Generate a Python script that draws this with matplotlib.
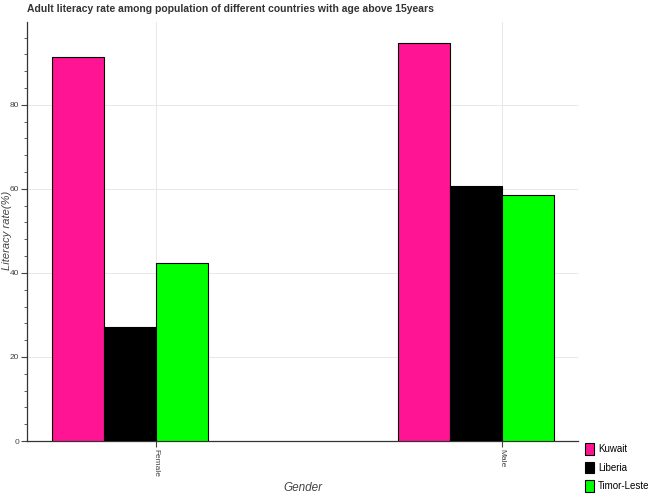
import numpy as np
import matplotlib.pyplot as plt
from matplotlib.ticker import MultipleLocator

plt.rcParams['font.family'] = ['Liberation Sans', 'DejaVu Sans']

# Data
genders = ['Female', 'Male']
countries = ['Kuwait', 'Liberia', 'Timor-Leste']
kuwait = [91.4, 94.8]
liberia = [27.1, 60.7]
timor_leste = [42.4, 58.6]
colors = ['#FF1493', '#000000', '#00FF00']

fig = plt.figure(figsize=(6.5, 5), dpi=100)
ax = fig.add_axes([0.0415, 0.118, 0.848, 0.838])

x = np.arange(len(genders))
width = 0.15
offsets = [-0.225, -0.075, 0.075]
for vals, name, col, off in zip([kuwait, liberia, timor_leste], countries, colors, offsets):
    ax.bar(x + off, vals, width, color=col, edgecolor='black', linewidth=0.8, label=name, zorder=3)

ax.set_xlim(-0.373, 1.22)
ax.set_ylim(0, 99.7)
ax.set_xticks(x)
ax.set_xticklabels(genders, rotation=-90, fontsize=6, color='#444444')
ax.yaxis.set_major_locator(MultipleLocator(20))
ax.yaxis.set_minor_locator(MultipleLocator(4))
ax.tick_params(axis='y', labelsize=6, labelcolor='#444444', length=4, width=0.8,
               color='#444444', pad=1.5)
ax.tick_params(axis='y', which='minor', length=2.5, width=0.6, color='#444444')
ax.tick_params(axis='x', length=4, width=0.8, color='#444444', pad=2)
ax.grid(True, color='#e8e8e8', linewidth=0.7, zorder=0)

for s in ['top', 'right']:
    ax.spines[s].set_visible(False)
for s in ['left', 'bottom']:
    ax.spines[s].set_color('#333333')
    ax.spines[s].set_linewidth(0.9)

# axis labels placed in figure coords so they stay inside the canvas
fig.text(0.466, 0.024, 'Gender', fontsize=8.5, style='italic', color='#444444',
         ha='center', va='center')
fig.text(0.011, 0.54, 'Literacy rate(%)', fontsize=8, style='italic', color='#444444',
         ha='center', va='center', rotation=90)
ax.set_title('Adult literacy rate among population of different countries with age above 15years',
             fontsize=7.5, fontweight='bold', loc='left', color='#333333', pad=7)

fig.legend(loc='upper left', bbox_to_anchor=(0.889, 0.127), frameon=False, fontsize=7,
           handlelength=1.0, handleheight=1.4, handletextpad=0.35, labelspacing=0.75,
           borderaxespad=0.3)

fig.savefig('out.png', dpi=100)
